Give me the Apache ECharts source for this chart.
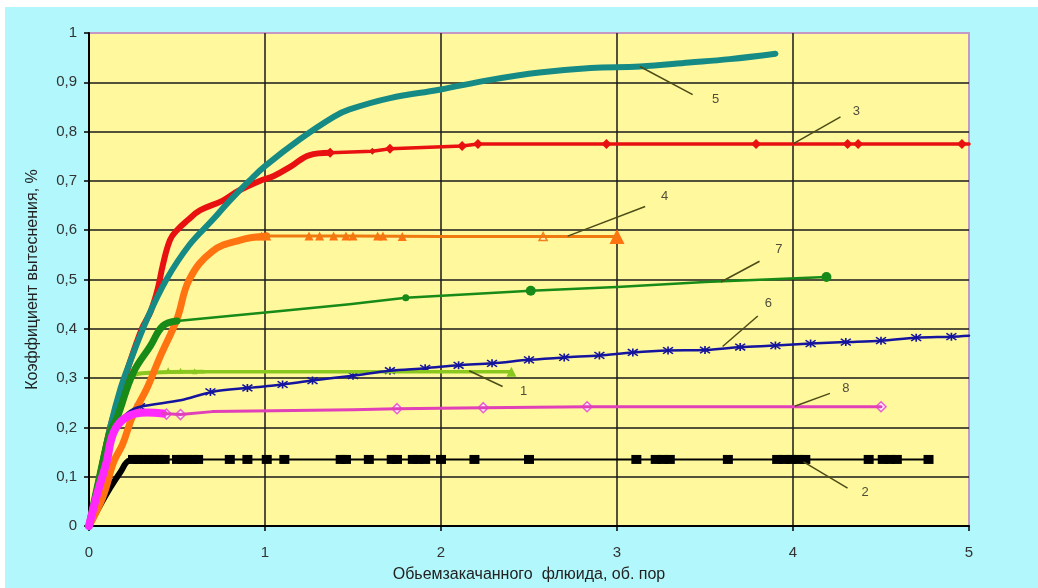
<!DOCTYPE html>
<html>
<head>
<meta charset="utf-8">
<script src="https://cdn.jsdelivr.net/npm/echarts@6.0.0/dist/echarts.min.js"></script>
<style>
  html, body { margin: 0; padding: 0; background: #ffffff; }
  #chart { position: absolute; left: 5px; top: 7px; width: 1033px; height: 581px; background: #b2f7fb; }
</style>
</head>
<body>
<div id="chart"></div>
<script>
// axis ticks
const xTicks = [0, 1, 2, 3, 4, 5]
const yTicks = [0, 0.1, 0.2, 0.3, 0.4, 0.5, 0.6, 0.7, 0.8, 0.9, 1]

// curve 5 (teal)
const c5 = [[0, 0], [0.06, 0.1], [0.12, 0.2], [0.18, 0.28], [0.23, 0.33], [0.33, 0.42], [0.44, 0.5],
  [0.57, 0.57], [0.7, 0.62], [0.8, 0.66], [0.91, 0.70], [1.0, 0.73], [1.2, 0.785], [1.39, 0.83],
  [1.48, 0.845], [1.71, 0.868], [1.99, 0.885], [2.28, 0.905], [2.56, 0.92], [2.85, 0.929],
  [3.13, 0.932], [3.41, 0.94], [3.64, 0.947], [3.9, 0.958]]

// curve 3 (red)
const c3Dense = [[0, 0], [0.06, 0.1], [0.12, 0.2], [0.18, 0.27], [0.23, 0.33], [0.3, 0.4], [0.35, 0.435],
  [0.39, 0.48], [0.42, 0.53], [0.46, 0.58], [0.5, 0.6], [0.56, 0.62], [0.63, 0.64], [0.76, 0.66],
  [0.85, 0.68], [0.97, 0.70], [1.05, 0.71], [1.15, 0.73], [1.25, 0.752], [1.37, 0.757]]
const c3Tail = [[1.37, 0.757], [1.61, 0.76], [1.71, 0.765], [2.12, 0.771], [2.21, 0.775], [2.94, 0.775], [5.0, 0.775]]
const c3Marks = [[1.37, 0.757], [1.71, 0.765], [2.12, 0.771], [2.21, 0.775], [2.94, 0.775],
  [3.79, 0.775], [4.31, 0.775], [4.37, 0.775], [4.96, 0.775]]
const c3Small = [[1.61, 0.76]]

// curve 4 (orange)
const c4Dense = [[0, 0], [0.08, 0.06], [0.14, 0.13], [0.19, 0.165], [0.25, 0.225], [0.33, 0.28], [0.4, 0.34],
  [0.5, 0.42], [0.57, 0.5], [0.7, 0.557], [0.86, 0.58], [1.01, 0.588]]
const c4Tail = [[1.01, 0.588], [1.5, 0.588], [2.0, 0.587], [2.6, 0.587], [3.0, 0.587]]
const c4Marks = [[0.98, 0.588], [1.01, 0.588], [1.25, 0.588], [1.31, 0.588], [1.39, 0.588], [1.46, 0.588],
  [1.5, 0.588], [1.64, 0.588], [1.67, 0.588], [1.78, 0.587]]
const c4Open = [[2.58, 0.587]]
const c4End = [[3.0, 0.587]]

// curve 7 (green)
const c7Dense = [[0, 0], [0.06, 0.1], [0.12, 0.19], [0.16, 0.22], [0.25, 0.31], [0.35, 0.366], [0.42, 0.406], [0.5, 0.416]]
const c7Tail = [[0.5, 0.416], [1.09, 0.436], [1.48, 0.45], [1.8, 0.463], [2.51, 0.477], [3.0, 0.485], [3.5, 0.495], [4.19, 0.505]]
const c7Marks = [[2.51, 0.477], [4.19, 0.505]]
const c7Small = [[1.8, 0.463]]

// curve 6 (blue)
const c6 = [[0, 0], [0.08, 0.12], [0.15, 0.2], [0.22, 0.23], [0.29, 0.242], [0.52, 0.255], [0.7, 0.272],
  [0.9, 0.28], [1.05, 0.285], [1.27, 0.295], [1.5, 0.305], [1.71, 0.315], [1.91, 0.32], [2.1, 0.326],
  [2.29, 0.33], [2.5, 0.337], [2.7, 0.342], [2.9, 0.346], [3.09, 0.352], [3.29, 0.356], [3.5, 0.357],
  [3.7, 0.363], [3.9, 0.366], [4.1, 0.37], [4.3, 0.373], [4.5, 0.376], [4.7, 0.382], [4.9, 0.384], [5.0, 0.386]]
const c6Marks = [[0.29, 0.242], [0.69, 0.272], [0.9, 0.28], [1.1, 0.287], [1.27, 0.295], [1.5, 0.305],
  [1.71, 0.315], [1.91, 0.32], [2.1, 0.326], [2.29, 0.33], [2.5, 0.337], [2.7, 0.342], [2.9, 0.346],
  [3.09, 0.352], [3.29, 0.356], [3.5, 0.357], [3.7, 0.363], [3.9, 0.366], [4.1, 0.37], [4.3, 0.373],
  [4.5, 0.376], [4.7, 0.382], [4.9, 0.384]]

// curve 1 (light green)
const c1Dense = [[0, 0], [0.06, 0.1], [0.12, 0.19], [0.16, 0.22], [0.24, 0.3], [0.3, 0.31], [0.65, 0.313]]
const c1Tail = [[0.65, 0.313], [1.5, 0.313], [2.0, 0.313], [2.4, 0.313]]
const c1Marks = [[0.36, 0.315], [0.45, 0.316], [0.52, 0.315], [0.6, 0.314]]
const c1End = [[2.4, 0.313]]

// curve 8 (magenta)
const c8Dense = [[0, 0], [0.045, 0.063], [0.1, 0.13], [0.14, 0.19], [0.21, 0.22], [0.33, 0.23], [0.42, 0.228]]
const c8Tail = [[0.42, 0.228], [0.52, 0.226], [0.7, 0.232], [1.05, 0.234], [1.5, 0.236], [1.75, 0.238],
  [2.24, 0.24], [2.83, 0.242], [4.5, 0.242]]
const c8Marks = [[0.44, 0.227], [0.52, 0.226], [1.75, 0.238], [2.24, 0.24], [2.83, 0.242], [4.5, 0.242]]

// curve 2 (black)
const c2Dense = [[0, 0], [0.06, 0.04], [0.12, 0.077], [0.18, 0.11], [0.23, 0.133], [0.3, 0.135]]
const c2Tail = [[0.3, 0.135], [4.78, 0.135]]
const c2Marks = [[0.25, 0.135], [0.28, 0.135], [0.31, 0.135], [0.34, 0.135], [0.37, 0.135], [0.4, 0.135],
  [0.43, 0.135], [0.5, 0.135], [0.53, 0.135], [0.56, 0.135], [0.59, 0.135], [0.62, 0.135],
  [0.8, 0.135], [0.9, 0.135], [1.01, 0.135], [1.11, 0.135], [1.43, 0.135], [1.46, 0.135],
  [1.59, 0.135], [1.72, 0.135], [1.75, 0.135], [1.84, 0.135], [1.87, 0.135], [1.91, 0.135],
  [2.0, 0.135], [2.19, 0.135], [2.5, 0.135], [3.11, 0.135], [3.22, 0.135], [3.26, 0.135],
  [3.3, 0.135], [3.63, 0.135], [3.91, 0.135], [3.95, 0.135], [3.99, 0.135], [4.03, 0.135],
  [4.07, 0.135], [4.43, 0.135], [4.51, 0.135], [4.55, 0.135], [4.59, 0.135], [4.77, 0.135]]

// callouts: label, from (on curve), to
const calloutNames = ['5', '3', '4', '7', '6', '1', '8', '2']
const calloutFrom = [[3.13, 0.932], [4.0, 0.775], [2.72, 0.588], [3.59, 0.495], [3.6, 0.364], [2.16, 0.315], [4.01, 0.243], [4.06, 0.13]]
const calloutTo = [[3.43, 0.875], [4.27, 0.83], [3.16, 0.648], [3.81, 0.537], [3.8, 0.426], [2.35, 0.283], [4.21, 0.269], [4.31, 0.077]]
const calloutText = [[3.56, 0.865], [4.36, 0.84], [3.27, 0.668], [3.92, 0.56], [3.86, 0.452], [2.47, 0.272], [4.3, 0.28], [4.41, 0.068]]

const asterisk = 'path://M0,0L10,10M10,0L0,10M5,-1L5,11'

function line(data, color, width, smooth) {
  return { type: 'line', data: data, symbol: 'none', silent: true,
    smooth: smooth || false,
    lineStyle: { color: color, width: width, cap: 'round', join: 'round' } }
}
function marks(data, symbol, size, color, border, bw) {
  return { type: 'scatter', data: data, symbol: symbol, symbolSize: size, silent: true,
    itemStyle: { color: color, borderColor: border || color, borderWidth: bw || 0, opacity: 1 } }
}

const series = [
  line(c2Tail, '#000000', 2),
  line(c2Dense, '#000000', 6, 0.4),
  line(c1Dense, '#8ac820', 4, 0.4),
  line(c1Tail, '#8ac820', 3.5),
  marks(c1Marks, 'triangle', 6, '#8ac820'),
  marks(c1End, 'triangle', 10, '#8ac820'),
  line(c4Dense, '#ff7410', 7, 0.4),
  line(c4Tail, '#ee7a10', 3),
  marks(c4Marks, 'triangle', 9, '#ff7410'),
  marks(c4Open, 'triangle', 8, '#fff8c0', '#f08020', 1.5),
  marks(c4End, 'triangle', 15, '#ff7410'),
  line(c3Dense, '#e81010', 6, 0.4),
  line(c3Tail, '#e81010', 3.5),
  marks(c3Marks, 'diamond', 10, '#e81010'),
  marks(c3Small, 'diamond', 7, '#b03018'),
  line(c5, '#168a84', 6, 0.4),
  line(c7Dense, '#178a17', 7, 0.4),
  line(c7Tail, '#178a17', 2.5),
  marks(c7Marks, 'circle', 10, '#178a17'),
  marks(c7Small, 'circle', 7, '#178a17'),
  line(c6, '#14149e', 2.5, 0.3),
  marks(c6Marks, asterisk, [10, 8], '#14149e', '#14149e', 1.5),
  line(c8Dense, '#ff28ff', 8, 0.4),
  line(c8Tail, '#e040b8', 3),
  marks(c8Marks, 'diamond', 10, '#ffe8ff', '#e860d0', 1.5),
  marks(c2Marks, 'rect', [10, 9], '#000000')
]

calloutNames.forEach(function (name, i) {
  series.push({ type: 'line', data: [calloutFrom[i], calloutTo[i]], symbol: 'none', silent: true,
    lineStyle: { color: '#4c4c18', width: 1.5 } })
})
series.push({
  type: 'scatter', symbolSize: 0, silent: true,
  data: calloutText.map(function (p, i) { return { value: p, name: calloutNames[i] } }),
  label: { show: true, position: 'inside', formatter: '{b}', color: '#222', fontSize: 13, fontFamily: 'Liberation Sans, Arial' }
})

series.forEach(function (s) { s.animation = false })

const chart = echarts.init(document.getElementById('chart'))
chart.setOption({
  backgroundColor: 'transparent',
  grid: { left: 84, right: 69, top: 26, bottom: 60, show: true, backgroundColor: '#fff89c',
    borderColor: '#c49ac4', borderWidth: 2 },
  xAxis: {
    type: 'value', min: xTicks[0], max: xTicks[xTicks.length - 1], interval: 1,
    name: 'Обьемзакачанного  флюида, об. пор', nameLocation: 'middle', nameGap: 41,
    nameTextStyle: { fontSize: 16, color: '#222', fontFamily: 'Liberation Sans, Arial' },
    axisLine: { lineStyle: { color: '#000', width: 2 } },
    axisTick: { show: true, length: 5, lineStyle: { color: '#000', width: 1.5 } },
    axisLabel: { fontSize: 15, color: '#333', margin: 19, fontFamily: 'Liberation Sans, Arial' },
    splitLine: { show: true, showMinLine: false, showMaxLine: false, lineStyle: { color: '#1a1a1a', width: 1.5 } }
  },
  yAxis: {
    type: 'value', min: yTicks[0], max: yTicks[yTicks.length - 1], interval: 0.1,
    name: 'Коэффициент вытеснения, %', nameLocation: 'middle', nameGap: 48,
    nameTextStyle: { fontSize: 16, color: '#222', fontFamily: 'Liberation Sans, Arial' },
    axisLine: { show: true, lineStyle: { color: '#000', width: 2 } },
    axisTick: { show: true, length: 5, lineStyle: { color: '#000', width: 1.5 } },
    axisLabel: { fontSize: 15, color: '#333', margin: 12, fontFamily: 'Liberation Sans, Arial',
      formatter: function (v) { return String(Math.round(v * 10) / 10).replace('.', ',') } },
    splitLine: { show: true, showMinLine: false, showMaxLine: false, lineStyle: { color: '#1a1a1a', width: 1.5 } }
  },
  series: series
})
</script>
</body>
</html>
